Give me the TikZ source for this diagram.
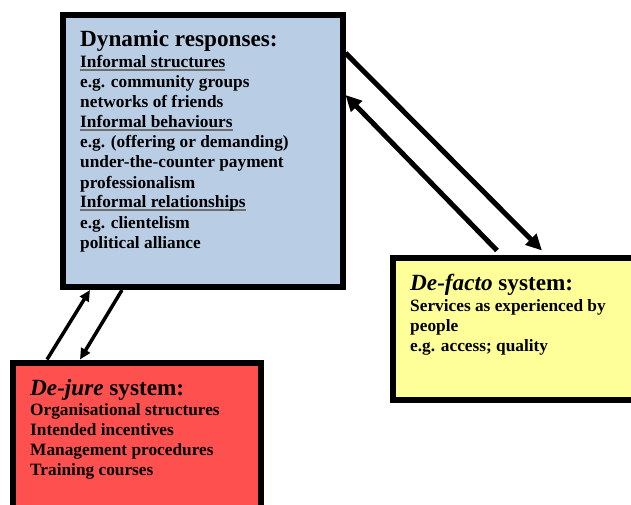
\documentclass[tikz,border=0pt]{standalone}
\usepackage{fontspec}
\setmainfont{Liberation Serif}
\usetikzlibrary{arrows.meta,calc}
\definecolor{dynblue}{RGB}{185,205,228}
\definecolor{factoyellow}{RGB}{255,255,153}
\definecolor{jurered}{RGB}{255,80,80}
\definecolor{ulgray}{RGB}{110,110,110}
\newcommand{\ulgrey}[1]{\setbox0\hbox{#1}\rlap{\color{ulgray}\rule[-3pt]{\wd0}{1.6pt}}\box0}
\tikzset{
  sysbox/.style={draw=black,line width=6pt,inner sep=0pt,rectangle},
  boxtitle/.style={anchor=base west,inner sep=0pt,font=\fontsize{23.2}{26}\selectfont\bfseries},
  boxline/.style={anchor=base west,inner sep=0pt,font=\fontsize{17.3}{20}\selectfont\bfseries},
  bigarrow/.style={line width=5pt,-{Triangle[length=16pt,width=15pt]}},
  smallarrow/.style={line width=3.5pt,-{Triangle[length=11pt,width=10pt]}}
}
\begin{document}
\begin{tikzpicture}[x=1pt,y=1pt]
    \useasboundingbox (0,0) rectangle (631,504);

    % the three systems
    \node[sysbox,fill=dynblue,minimum width=280pt,minimum height=272pt] (dyn) at (202.5,353) {};
    \node[sysbox,fill=factoyellow,minimum width=307.5pt,minimum height=142pt] (facto) at (546.25,175.5) {};
    \node[sysbox,fill=jurered,minimum width=248pt,minimum height=157.5pt] (jure) at (136.5,62.75) {};

    % texts
    \node[boxtitle] (dyntitle) at ([shift={(20.5,-35)}]dyn.north west) {Dynamic responses:};
    \foreach \txt [count=\i] in {{\ulgrey{Informal structures}},{e.g. community groups},
        {networks of friends},{\ulgrey{Informal behaviours}},{e.g. (offering or demanding)},
        {under-the-counter payment},{professionalism},{\ulgrey{Informal relationships}},
        {e.g. clientelism},{political alliance}}
        \node[boxline] (dynline\i) at ($(dyntitle.base west)+(0,-1-20*\i)$) {\txt};

    \node[boxtitle] (factotitle) at ([shift={(20.5,-35.5)}]facto.north west) {\textit{De-facto} system:};
    \foreach \txt [count=\i] in {{Services as experienced by},{people},{e.g. access; quality}}
        \node[boxline] (factoline\i) at ($(factotitle.base west)+(0,-1-20*\i)$) {\txt};

    \node[boxtitle] (juretitle) at ([shift={(20.5,-35.5)}]jure.north west) {\textit{De-jure} system:};
    \foreach \txt [count=\i] in {{Organisational structures},{Intended incentives},
        {Management procedures},{Training courses}}
        \node[boxline] (jureline\i) at ($(juretitle.base west)+(0,-20*\i)$) {\txt};

    % arrows
    \draw[bigarrow] ([yshift=-41pt]dyn.north east) -- ([xshift=152.5pt,yshift=4pt]facto.north west);
    \draw[bigarrow] ([xshift=107.5pt,yshift=4pt]facto.north west) -- ([yshift=-83pt]dyn.north east);
    \draw[smallarrow] ([xshift=37.5pt]jure.north west) -- ([xshift=30.5pt]dyn.south west);
    \draw[smallarrow] ([xshift=62.5pt]dyn.south west) -- ([xshift=70.5pt]jure.north west);

\end{tikzpicture}
\end{document}
